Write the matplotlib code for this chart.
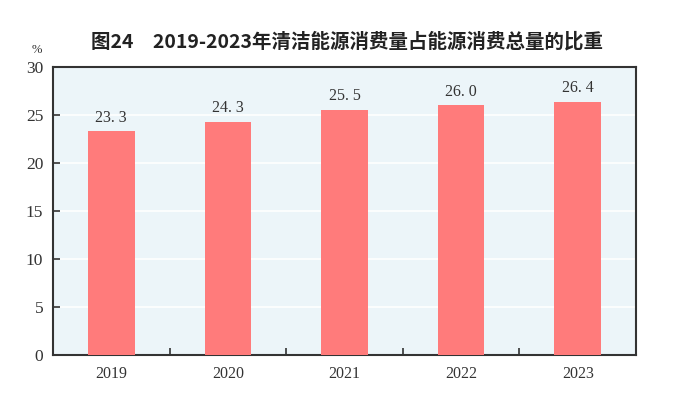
import matplotlib.pyplot as plt

years = ["2019", "2020", "2021", "2022", "2023"]
shares = [23.3, 24.3, 25.5, 26.0, 26.4]
title = "图24　2019-2023年清洁能源消费量占能源消费总量的比重"

plt.rcParams['font.family'] = ['Noto Sans CJK SC', 'DejaVu Sans']

fig = plt.figure(figsize=(6.76, 4.07), dpi=100)
ax = fig.add_axes([53 / 676, 1 - 355 / 407, 583 / 676, 288 / 407])
ax.set_facecolor('#ecf5f9')

x = list(range(len(years)))
ax.bar(x, shares, width=0.4, color='#ff7b7b', zorder=3)
for xi, v in zip(x, shares):
    label = "{:.1f}".format(v).replace('.', '. ')
    ax.text(xi, v + 0.6, label, ha='center', va='bottom', fontsize=11.5,
            family='Liberation Serif', color='#333333', zorder=4)

ax.set_xlim(-0.5, len(years) - 0.5)
ax.set_ylim(0, 30)
ax.set_yticks(range(0, 31, 5))
ax.yaxis.grid(True, color='white', linewidth=1.2, zorder=1)
ax.set_axisbelow(True)

ax.set_xticks([i + 0.5 for i in range(len(years) - 1)])
ax.set_xticklabels([])
ax.set_xticks(x, minor=True)
ax.set_xticklabels(years, minor=True, family='Liberation Serif', fontsize=11.5, color='#333333')
ax.tick_params(axis='x', which='major', direction='in', length=5, width=1.2, color='#333333')
ax.tick_params(axis='x', which='minor', length=0, pad=8)
ax.tick_params(axis='y', direction='in', length=5, width=1.2, color='#333333',
               labelsize=12.5, labelcolor='#333333', pad=7)
for lab in ax.get_yticklabels():
    lab.set_family('Liberation Serif')

for s in ax.spines.values():
    s.set_color('#333333')
    s.set_linewidth(1.5)

fig.text(37 / 676, 1 - 50 / 407, "%", ha='center', va='center', fontsize=9,
         family='Liberation Serif', color='#333333')
fig.text(347 / 676, 1 - 42 / 407, title, ha='center', va='center', fontsize=14,
         fontweight='bold', color='#222222')

fig.savefig('out.png', dpi=100, facecolor='white')
